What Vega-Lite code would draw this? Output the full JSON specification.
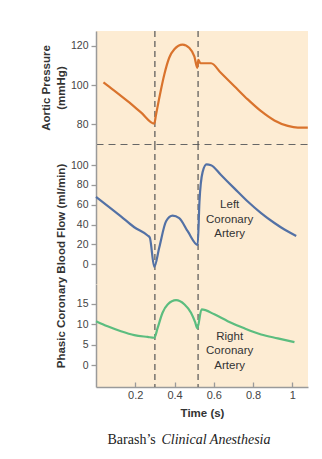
{
  "$schema": "https://vega.github.io/schema/vega-lite/v6.json",
  "padding": {"left": 40, "top": 30, "right": 10, "bottom": 5},
  "background": "white",
  "spacing": 0,
  "bounds": "flush",
  "title": {
    "text": "Clinical Anesthesia",
    "orient": "bottom",
    "anchor": "start",
    "font": "Liberation Serif",
    "fontSize": 14,
    "fontStyle": "italic",
    "fontWeight": "normal",
    "color": "#222222",
    "offset": 0,
    "dx": 121,
    "dy": -14
  },
  "config": {
    "font": "Liberation Sans",
    "view": {"stroke": null, "fill": "#fdecd3"},
    "axis": {
      "grid": false,
      "domainColor": "#9a9a9a",
      "domainWidth": 1.5,
      "tickColor": "#9a9a9a",
      "tickWidth": 1.3,
      "tickSize": 5,
      "labelPadding": 3,
      "labelColor": "#444444",
      "labelFont": "Liberation Sans",
      "labelFontSize": 10.5,
      "titleFont": "Liberation Sans",
      "titleFontSize": 11.5,
      "titleFontWeight": "bold",
      "titleColor": "#333333",
      "titlePadding": 4
    }
  },
  "datasets": {
    "events": [{"t": 0.3}, {"t": 0.52}],
    "notes": [
      {"series": "lca", "t": 0.681, "v": 65.5, "label": "Left\nCoronary\nArtery"},
      {"series": "rca", "t": 0.681, "v": 8.4, "label": "Right\nCoronary\nArtery"}
    ],
    "aortic": [
      {"t": 0.038, "v": 101.4}, {"t": 0.093, "v": 97.2}, {"t": 0.161, "v": 91.8},
      {"t": 0.229, "v": 86.1}, {"t": 0.297, "v": 80.4}, {"t": 0.305, "v": 84.5},
      {"t": 0.322, "v": 93.3}, {"t": 0.348, "v": 105.4}, {"t": 0.373, "v": 113.9},
      {"t": 0.399, "v": 118.2}, {"t": 0.441, "v": 120.6}, {"t": 0.476, "v": 118.8},
      {"t": 0.501, "v": 114.6}, {"t": 0.516, "v": 108.8}, {"t": 0.521, "v": 112.8},
      {"t": 0.532, "v": 111.1}, {"t": 0.586, "v": 111.1}, {"t": 0.637, "v": 106.1},
      {"t": 0.705, "v": 99.4}, {"t": 0.773, "v": 92.7}, {"t": 0.841, "v": 86.7},
      {"t": 0.909, "v": 82.0}, {"t": 0.977, "v": 79.2}, {"t": 1.028, "v": 78.3},
      {"t": 1.079, "v": 78.3}
    ],
    "lca": [
      {"t": 0.0, "v": 68.0}, {"t": 0.059, "v": 59.0}, {"t": 0.127, "v": 48.3},
      {"t": 0.195, "v": 37.3}, {"t": 0.263, "v": 29.0}, {"t": 0.274, "v": 27.0},
      {"t": 0.297, "v": -2.7}, {"t": 0.322, "v": 16.6}, {"t": 0.357, "v": 43.3},
      {"t": 0.390, "v": 49.0}, {"t": 0.424, "v": 46.6}, {"t": 0.467, "v": 33.3},
      {"t": 0.518, "v": 19.5}, {"t": 0.527, "v": 63.0}, {"t": 0.543, "v": 93.0},
      {"t": 0.563, "v": 100.8}, {"t": 0.586, "v": 100.0}, {"t": 0.637, "v": 90.0},
      {"t": 0.705, "v": 76.6}, {"t": 0.773, "v": 63.3}, {"t": 0.841, "v": 51.6},
      {"t": 0.909, "v": 41.6}, {"t": 0.960, "v": 35.0}, {"t": 1.02, "v": 28.5}
    ],
    "rca": [
      {"t": 0.0, "v": 10.75}, {"t": 0.059, "v": 9.5}, {"t": 0.127, "v": 8.3},
      {"t": 0.195, "v": 7.35}, {"t": 0.263, "v": 6.9}, {"t": 0.297, "v": 6.7},
      {"t": 0.314, "v": 9.1}, {"t": 0.339, "v": 12.8}, {"t": 0.365, "v": 14.8},
      {"t": 0.408, "v": 15.85}, {"t": 0.451, "v": 14.8}, {"t": 0.484, "v": 12.8},
      {"t": 0.505, "v": 10.5}, {"t": 0.516, "v": 9.0}, {"t": 0.538, "v": 13.6},
      {"t": 0.603, "v": 12.4}, {"t": 0.671, "v": 10.75}, {"t": 0.756, "v": 9.0},
      {"t": 0.841, "v": 7.5}, {"t": 0.926, "v": 6.55}, {"t": 1.011, "v": 5.65}
    ]
  },
  "vconcat": [
    {
      "width": 212,
      "height": 113,
      "layer": [
        {
          "data": {"name": "events"},
          "mark": {"type": "rule", "color": "#555555", "strokeDash": [6, 4], "strokeWidth": 1.2},
          "encoding": {
            "x": {"field": "t", "type": "quantitative", "scale": {"domain": [0, 1.08], "nice": false}, "axis": null}
          }
        },
        {
          "data": {"name": "aortic"},
          "mark": {"type": "line", "color": "#d9732d", "strokeWidth": 2.2, "interpolate": "monotone"},
          "encoding": {
            "x": {"field": "t", "type": "quantitative", "scale": {"domain": [0, 1.08], "nice": false}, "axis": null},
            "y": {"field": "v", "type": "quantitative", "scale": {"domain": [70, 127.5], "nice": false, "zero": false},
                  "axis": {"values": [80, 100, 120], "title": ["Aortic Pressure", "(mmHg)"], "titleLineHeight": 15}}
          }
        }
      ]
    },
    {
      "width": 212,
      "height": 140,
      "layer": [
        {
          "data": {"name": "events"},
          "mark": {"type": "rule", "color": "#555555", "strokeDash": [6, 4], "strokeWidth": 1.2},
          "encoding": {"x": {"field": "t", "type": "quantitative", "scale": {"domain": [0, 1.08], "nice": false},
                  "axis": {"orient": "top", "domainDash": [7, 5], "domainColor": "#666666", "domainWidth": 1.2, "ticks": false, "labels": false, "title": null}}}
        },
        {
          "data": {"name": "lca"},
          "mark": {"type": "line", "color": "#5371a5", "strokeWidth": 2.2, "interpolate": "monotone"},
          "encoding": {
            "x": {"field": "t", "type": "quantitative", "scale": {"domain": [0, 1.08], "nice": false},
                  "axis": {"orient": "top", "domainDash": [7, 5], "domainColor": "#666666", "domainWidth": 1.2, "ticks": false, "labels": false, "title": null}},
            "y": {"field": "v", "type": "quantitative", "scale": {"domain": [-20, 121.4], "nice": false, "zero": false},
                  "axis": {"values": [0, 20, 40, 60, 80, 100], "title": "Phasic Coronary Blood Flow (ml/min)", "titleY": 121.5}}
          }
        },
        {
          "data": {"name": "notes"},
          "transform": [{"filter": "datum.series === 'lca'"}],
          "mark": {"type": "text", "font": "Liberation Sans", "fontSize": 11.5, "color": "#333333", "lineHeight": 14.5, "lineBreak": "\n", "baseline": "top", "align": "center"},
          "encoding": {
            "x": {"field": "t", "type": "quantitative", "scale": {"domain": [0, 1.08], "nice": false},
                  "axis": {"orient": "top", "domainDash": [7, 5], "domainColor": "#666666", "domainWidth": 1.2, "ticks": false, "labels": false, "title": null}},
            "y": {"field": "v", "type": "quantitative", "scale": {"domain": [-20, 121.4], "nice": false, "zero": false},
                  "axis": {"values": [0, 20, 40, 60, 80, 100], "title": "Phasic Coronary Blood Flow (ml/min)", "titleY": 121.5}},
            "text": {"field": "label", "type": "nominal"}
          }
        }
      ]
    },
    {
      "width": 212,
      "height": 103,
      "title": {
        "text": "Barash’s",
        "orient": "bottom",
        "anchor": "start",
        "frame": "group",
        "font": "Liberation Serif",
        "fontSize": 14,
        "fontWeight": "normal",
        "color": "#222222",
        "offset": 14,
        "dx": 11.5
      },
      "layer": [
        {
          "data": {"name": "events"},
          "mark": {"type": "rule", "color": "#555555", "strokeDash": [6, 4], "strokeWidth": 1.2},
          "encoding": {
            "x": {"field": "t", "type": "quantitative", "scale": {"domain": [0, 1.08], "nice": false},
                  "axis": {"values": [0.2, 0.4, 0.6, 0.8, 1], "labelExpr": "'' + datum.value", "tickSize": -5, "labelPadding": 7, "labelFontSize": 11, "title": "Time (s)", "titlePadding": 7}}
          }
        },
        {
          "data": {"name": "rca"},
          "mark": {"type": "line", "color": "#5cbd7f", "strokeWidth": 2.2, "interpolate": "monotone"},
          "encoding": {
            "x": {"field": "t", "type": "quantitative", "scale": {"domain": [0, 1.08], "nice": false},
                  "axis": {"values": [0.2, 0.4, 0.6, 0.8, 1], "labelExpr": "'' + datum.value", "tickSize": -5, "labelPadding": 7, "labelFontSize": 11, "title": "Time (s)", "titlePadding": 7}},
            "y": {"field": "v", "type": "quantitative", "scale": {"domain": [-5.3, 19.8], "nice": false, "zero": false},
                  "axis": {"values": [0, 5, 10, 15], "title": null}}
          }
        },
        {
          "data": {"name": "notes"},
          "transform": [{"filter": "datum.series === 'rca'"}],
          "mark": {"type": "text", "font": "Liberation Sans", "fontSize": 11.5, "color": "#333333", "lineHeight": 14.5, "lineBreak": "\n", "baseline": "top", "align": "center"},
          "encoding": {
            "x": {"field": "t", "type": "quantitative", "scale": {"domain": [0, 1.08], "nice": false},
                  "axis": {"values": [0.2, 0.4, 0.6, 0.8, 1], "labelExpr": "'' + datum.value", "tickSize": -5, "labelPadding": 7, "labelFontSize": 11, "title": "Time (s)", "titlePadding": 7}},
            "y": {"field": "v", "type": "quantitative", "scale": {"domain": [-5.3, 19.8], "nice": false, "zero": false},
                  "axis": {"values": [0, 5, 10, 15], "title": null}},
            "text": {"field": "label", "type": "nominal"}
          }
        }
      ]
    }
  ]
}
